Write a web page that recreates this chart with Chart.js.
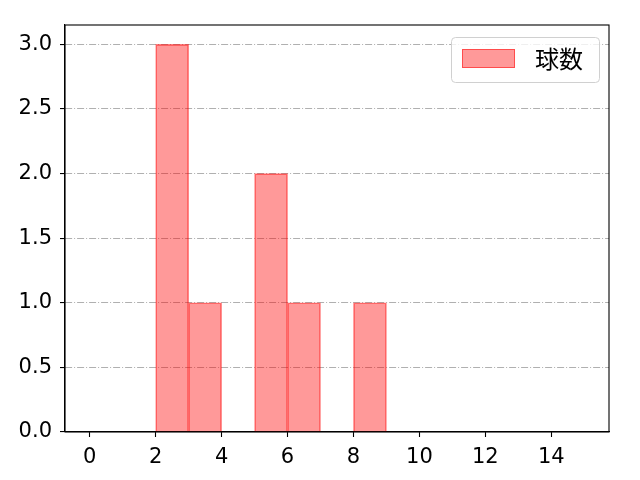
<!DOCTYPE html>
<html>
<head>
    <title>球数 histogram</title>
    <script src="https://cdn.jsdelivr.net/npm/chart.js"></script>
    <style>
        html, body { margin: 0; padding: 0; background: #fff; }
        #wrap { width: 640px; height: 480px; }
    </style>
</head>
<body>
    <div id="wrap"><canvas id="histChart" width="640" height="480"></canvas></div>

    <script>
        // histogram bins (left edge, width 1) and counts
        const binStarts = [2, 3, 5, 6, 8];
        const counts = [3, 1, 2, 1, 1];
        const seriesLabel = '球数';
        const xRange = [-0.75, 15.75];
        const yRange = [0, 3.15];

        const FONT = '"DejaVu Sans", "Noto Sans CJK JP", sans-serif';

        // black frame on all four sides of the plot area
        const framePlugin = {
            id: 'frame',
            afterDraw(chart) {
                const a = chart.chartArea;
                const ctx = chart.ctx;
                ctx.save();
                ctx.strokeStyle = '#000';
                ctx.lineWidth = 1.1;
                ctx.strokeRect(a.left, a.top, a.right - a.left, a.bottom - a.top);
                ctx.restore();
            }
        };

        // matplotlib-style legend box in the upper right
        const legendPlugin = {
            id: 'mplLegend',
            afterDraw(chart) {
                const ctx = chart.ctx;
                const a = chart.chartArea;
                const ds = chart.data.datasets[0];
                const w = 148, h = 45;
                const x = a.right - 10 - w, y = a.top + 12;
                ctx.save();
                ctx.fillStyle = 'rgba(255,255,255,0.8)';
                ctx.strokeStyle = '#d0d0d0';
                ctx.lineWidth = 1;
                ctx.beginPath();
                ctx.roundRect(x + 0.5, y + 0.5, w, h, 4);
                ctx.fill();
                ctx.stroke();
                ctx.fillStyle = ds.backgroundColor;
                ctx.fillRect(x + 11, y + 12, 53, 19);
                ctx.strokeStyle = ds.borderColor;
                ctx.strokeRect(x + 11.5, y + 12.5, 52, 18);
                ctx.fillStyle = '#000';
                ctx.font = '24px "Noto Sans CJK JP", sans-serif';
                ctx.textBaseline = 'middle';
                ctx.fillText(ds.label, x + 84, y + 22);
                ctx.restore();
            }
        };

        const ctx = document.getElementById('histChart').getContext('2d');
        new Chart(ctx, {
            type: 'bar',
            data: {
                datasets: [{
                    label: seriesLabel,
                    data: binStarts.map((b, i) => ({ x: b + 0.5, y: counts[i] })),
                    backgroundColor: 'rgba(255, 0, 0, 0.4)',
                    borderColor: 'rgba(255, 0, 0, 0.5)',
                    borderWidth: 1,
                    barPercentage: 1.0,
                    categoryPercentage: 1.0
                }]
            },
            options: {
                responsive: false,
                animation: false,
                events: [],
                layout: { padding: { top: 25, right: 31, left: 0, bottom: 0 } },
                plugins: {
                    legend: { display: false },
                    tooltip: { enabled: false }
                },
                scales: {
                    x: {
                        type: 'linear',
                        offset: false,
                        min: xRange[0],
                        max: xRange[1],
                        afterFit: s => { s.height = 48; },
                        grid: {
                            offset: false,
                            drawOnChartArea: false,
                            tickColor: '#000',
                            tickLength: 5,
                            tickWidth: 1.1
                        },
                        border: { color: '#000', width: 1.1 },
                        ticks: {
                            stepSize: 2,
                            includeBounds: false,
                            autoSkip: false,
                            maxRotation: 0,
                            padding: 8,
                            color: '#000',
                            font: { family: FONT, size: 21 },
                            callback: v => String(v)
                        }
                    },
                    y: {
                        min: yRange[0],
                        max: yRange[1],
                        afterFit: s => { s.width = 65; },
                        grid: {
                            color: '#b0b0b0',
                            lineWidth: 1.1,
                            tickColor: '#000',
                            tickLength: 5,
                            tickWidth: 1.1,
                            tickBorderDash: []
                        },
                        border: { color: '#000', width: 1.1, dash: [7, 2, 1, 2] },
                        ticks: {
                            stepSize: 0.5,
                            includeBounds: false,
                            padding: 8,
                            color: '#000',
                            font: { family: FONT, size: 21 },
                            callback: v => v.toFixed(1)
                        }
                    }
                }
            },
            plugins: [framePlugin, legendPlugin]
        });
    </script>
</body>
</html>
